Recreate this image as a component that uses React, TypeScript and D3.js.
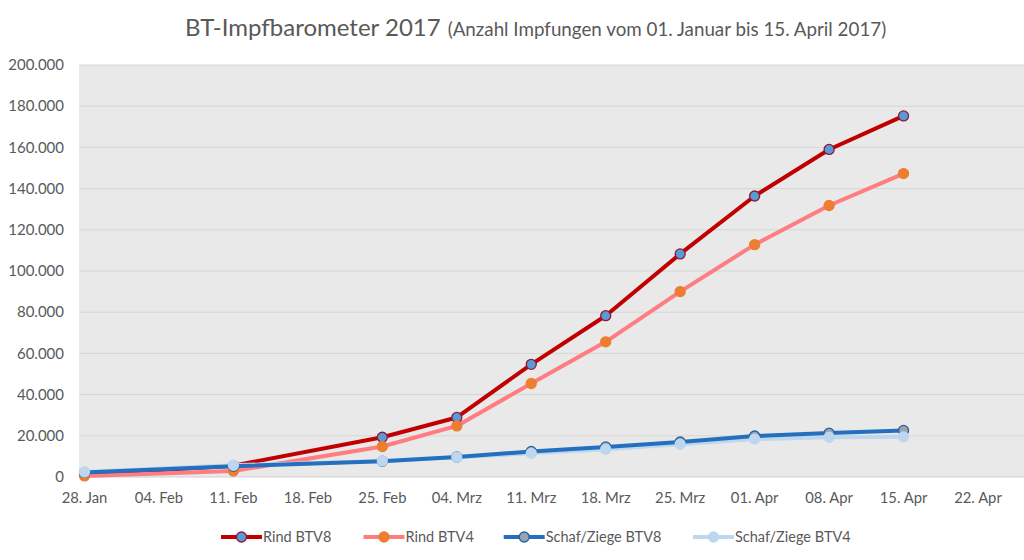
import React from "react";
import * as d3 from "d3";

const dates = ["2017-01-28", "2017-02-11", "2017-02-25", "2017-03-04", "2017-03-11", "2017-03-18", "2017-03-25", "2017-04-01", "2017-04-08", "2017-04-15"];
const rindBTV8 = [1200, 5500, 19300, 28900, 54700, 78300, 108300, 136400, 159000, 175300];
const rindBTV4 = [500, 2900, 14800, 24800, 45400, 65600, 90000, 112800, 131800, 147300];
const schafBTV8 = [2200, 5200, 7700, 9700, 12400, 14600, 17000, 19900, 21300, 22600];
const schafBTV4 = [2400, 5700, 7800, 9600, 11500, 13500, 15900, 18400, 19300, 19500];
const xTickDates = ["2017-01-28", "2017-02-04", "2017-02-11", "2017-02-18", "2017-02-25", "2017-03-04", "2017-03-11", "2017-03-18", "2017-03-25", "2017-04-01", "2017-04-08", "2017-04-15", "2017-04-22"];
const yTicks = [0, 20000, 40000, 60000, 80000, 100000, 120000, 140000, 160000, 180000, 200000];
const monthNames = ["Jan", "Feb", "Mrz", "Apr", "Mai", "Jun", "Jul", "Aug", "Sep", "Okt", "Nov", "Dez"];

const series = [
  { name: "Rind BTV8", values: rindBTV8, line: "#C00000", fill: "#5B9BD5", stroke: "#8B1A3A" },
  { name: "Rind BTV4", values: rindBTV4, line: "#FF7C80", fill: "#ED7D31", stroke: "#ED7D31" },
  { name: "Schaf/Ziege BTV8", values: schafBTV8, line: "#2470BE", fill: "#98A4B2", stroke: "#2A5E9E" },
  { name: "Schaf/Ziege BTV4", values: schafBTV4, line: "#BDD7EE", fill: "#BDD7EE", stroke: "#BDD7EE" },
];

const parse = (s: string) => new Date(s + "T00:00:00Z");
const fmtDate = (d: Date) => `${String(d.getUTCDate()).padStart(2, "0")}. ${monthNames[d.getUTCMonth()]}`;
const de = d3.formatLocale({ decimal: ",", thousands: ".", grouping: [3], currency: ["", "€"] });
const fmtY = de.format(",d");

export default function App() {
  const font = "Lato, 'Open Sans', sans-serif";
  const x = d3.scaleUtc().domain([parse(xTickDates[0]), parse(xTickDates[xTickDates.length - 1])]).range([84.5, 978]);
  const y = d3.scaleLinear().domain([0, 200000]).range([477, 65]);
  const plotLeft = 79;
  const plotRight = 1024;
  const lineGen = (vals: number[]) =>
    d3.line<number>().x((_, i) => x(parse(dates[i]))).y((v) => y(v))(vals) || "";

  const lineOrder = [0, 1, 3, 2];
  const markerOrder = [0, 1, 2, 3];
  const legendX = [221, 363.5, 503.7, 693];

  return (
    <svg width={1024} height={560} style={{ position: "absolute", left: 0, top: 0, background: "#fff" }} fontFamily={font}>
      <rect x={0} y={0} width={1024} height={560} fill="#fff" />
      <text x={185} y={36} fill="#595959">
        <tspan fontSize={24}>BT-Impfbarometer 2017</tspan>
        <tspan fontSize={18.8} dx={7}>(Anzahl Impfungen vom 01. Januar bis 15. April 2017)</tspan>
      </text>
      <rect x={plotLeft} y={y(200000)} width={plotRight - plotLeft} height={y(0) - y(200000)} fill="#E9E9E9" />
      {yTicks.map((t) => (
        <g key={t}>
          <line x1={plotLeft} x2={plotRight} y1={y(t)} y2={y(t)} stroke={t === 0 ? "#D0D0D0" : "#D6D6D6"} strokeWidth={1} />
          <text x={64} y={y(t)} dy="0.35em" textAnchor="end" fontSize={15} fill="#595959">{fmtY(t)}</text>
        </g>
      ))}
      {xTickDates.map((s) => (
        <text key={s} x={x(parse(s))} y={503} textAnchor="middle" fontSize={14.8} fill="#595959">{fmtDate(parse(s))}</text>
      ))}
      {lineOrder.map((i) => (
        <path key={"l" + i} d={lineGen(series[i].values)} fill="none" stroke={series[i].line} strokeWidth={4} strokeLinejoin="round" strokeLinecap="round" />
      ))}
      {markerOrder.map((i) => (
        <g key={"m" + i}>
          {series[i].values.map((v, j) => (
            <circle key={j} cx={x(parse(dates[j]))} cy={y(v)} r={5} fill={series[i].fill} stroke={series[i].stroke} strokeWidth={1.3} />
          ))}
        </g>
      ))}
      {series.map((s, i) => (
        <g key={"lg" + i} transform={`translate(${legendX[i]},537)`}>
          <line x1={0} x2={41} y1={0} y2={0} stroke={s.line} strokeWidth={4} />
          <circle cx={20.5} cy={0} r={5} fill={s.fill} stroke={s.stroke} strokeWidth={1.3} />
          <text x={42} y={0} dy="0.35em" fontSize={14.5} fill="#595959">{s.name}</text>
        </g>
      ))}
    </svg>
  );
}
